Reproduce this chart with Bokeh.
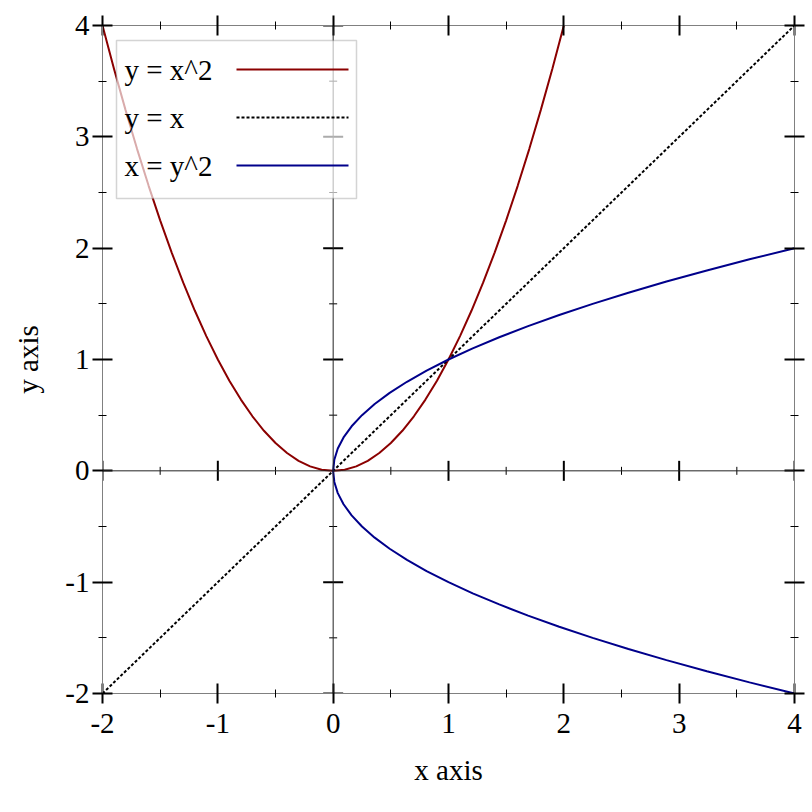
import math
from bokeh.plotting import figure
from bokeh.models import (LinearAxis, SingleIntervalTicker, Span, BoxAnnotation,
                          Label, Range1d)
from bokeh.embed import file_html
from bokeh.resources import INLINE

# ---------------- data ----------------
x_vals = [-2.0, -1.9, -1.8, -1.7, -1.6, -1.5, -1.4, -1.3, -1.2, -1.1, -1.0,
          -0.9, -0.8, -0.7, -0.6, -0.5, -0.4, -0.3, -0.2, -0.1, 0.0,
          0.1, 0.2, 0.3, 0.4, 0.5, 0.6, 0.7, 0.8, 0.9, 1.0,
          1.1, 1.2, 1.3, 1.4, 1.5, 1.6, 1.7, 1.8, 1.9, 2.0]
sq_vals = [4.00, 3.61, 3.24, 2.89, 2.56, 2.25, 1.96, 1.69, 1.44, 1.21, 1.00,
           0.81, 0.64, 0.49, 0.36, 0.25, 0.16, 0.09, 0.04, 0.01, 0.00,
           0.01, 0.04, 0.09, 0.16, 0.25, 0.36, 0.49, 0.64, 0.81, 1.00,
           1.21, 1.44, 1.69, 1.96, 2.25, 2.56, 2.89, 3.24, 3.61, 4.00]
diag_x = [-2, 4]
diag_y = [-2, 4]
tick_vals = [-2, -1, 0, 1, 2, 3, 4]
tick_labels = ["-2", "-1", "0", "1", "2", "3", "4"]
legend_labels = ["y = x^2", "y = x", "x = y^2"]
x_title = "x axis"
y_title = "y axis"

FONT = "Liberation Serif"
FS = "29px"
RED = "#8b0000"
BLUE = "#00008b"

p = figure(frame_width=692, frame_height=668,
           x_range=Range1d(-2, 4), y_range=Range1d(-2, 4),
           output_backend="svg", toolbar_location=None,
           min_border_left=102, min_border_right=14,
           min_border_top=25, min_border_bottom=115)
p.grid.visible = False
p.outline_line_color = None
p.background_fill_color = "white"
p.border_fill_color = "white"

p.add_layout(LinearAxis(), "above")
p.add_layout(LinearAxis(), "right")

overrides = {t: s for t, s in zip(tick_vals, tick_labels)}
empty = {t: "" for t in tick_vals}
for ax in p.axis:
    ax.ticker = SingleIntervalTicker(interval=1, num_minor_ticks=2)
    ax.axis_line_color = "#808080"
    ax.axis_line_width = 1
    ax.major_tick_in = 10
    ax.major_tick_out = 10
    ax.minor_tick_in = 4
    ax.minor_tick_out = 4
    ax.major_tick_line_color = "black"
    ax.major_tick_line_width = 2
    ax.minor_tick_line_color = "black"
    ax.minor_tick_line_width = 1
    ax.major_label_text_font = FONT
    ax.major_label_text_font_size = FS
    ax.major_label_text_color = "black"
    ax.major_label_overrides = overrides
    ax.axis_label_text_font = FONT
    ax.axis_label_text_font_size = FS
    ax.axis_label_text_font_style = "normal"
    ax.axis_label_text_color = "black"

for ax in p.above + p.right:
    ax.major_label_overrides = empty
    ax.major_label_standoff = 0

bx = p.below[0]
ly = p.left[0]
bx.axis_label = x_title
ly.axis_label = y_title
bx.major_label_standoff = 10
bx.axis_label_standoff = 18
ly.major_label_standoff = 3
ly.axis_label_standoff = 18

# interior axes
p.add_layout(Span(location=0, dimension="height", line_color="#222222", line_width=1))
p.add_layout(Span(location=0, dimension="width", line_color="#222222", line_width=1))
maj = [t for t in tick_vals if t != 0]
mnr = [t + 0.5 for t in tick_vals[:-1]]
p.scatter(x=maj, y=[0] * len(maj), marker="dash", size=20, angle=math.pi / 2,
          line_color="black", line_width=2)
p.scatter(x=[0] * len(maj), y=maj, marker="dash", size=20,
          line_color="black", line_width=2)
p.scatter(x=mnr, y=[0] * len(mnr), marker="dash", size=8, angle=math.pi / 2,
          line_color="black", line_width=1)
p.scatter(x=[0] * len(mnr), y=mnr, marker="dash", size=8,
          line_color="black", line_width=1)

# curves
p.line(x_vals, sq_vals, line_color=RED, line_width=2)
p.line(diag_x, diag_y, line_color="black", line_width=2, line_dash="3 2")
p.line(sq_vals, x_vals, line_color=BLUE, line_width=2)

# legend (positioned in pixel space of the frame)
def px_x(px):
    return -2 + (px - 102) * 6 / 692

def px_y(py):
    return 4 - (py - 25) * 6 / 668

p.add_layout(BoxAnnotation(left=px_x(116), right=px_x(356), top=px_y(40), bottom=px_y(198),
                           fill_color="white", fill_alpha=0.67,
                           line_color="#707070", line_width=1.5))
styles = [dict(line_color=RED, line_width=2),
          dict(line_color="black", line_width=2, line_dash="3 2"),
          dict(line_color=BLUE, line_width=2)]
rows = [69, 117, 165]
for lab, st, ry in zip(legend_labels, styles, rows):
    p.add_layout(Label(x=px_x(124), y=px_y(ry), text=lab, text_baseline="middle",
                       text_align="left", text_font=FONT, text_font_size=FS,
                       text_color="black", level="overlay"))
    r = p.line([px_x(236), px_x(348)], [px_y(ry), px_y(ry)], **st)
    r.level = "overlay"

open("out.html", "w").write(file_html(p, INLINE))
